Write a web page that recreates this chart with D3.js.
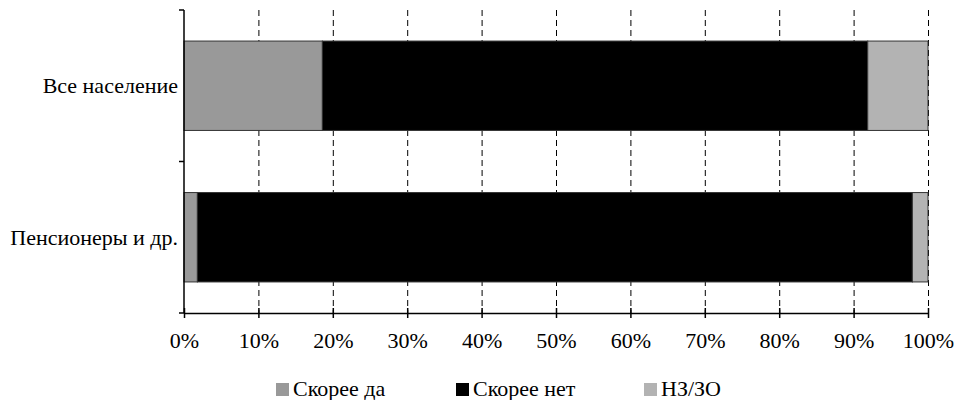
<!DOCTYPE html>
<html>
<head>
<meta charset="utf-8">
<script src="https://cdn.jsdelivr.net/npm/d3@7"></script>
<style>
  body { margin: 0; background: #fff; }
</style>
</head>
<body>
<div id="chart"></div>
<script>
var width = 956, height = 400;
var serif = "'Liberation Serif', 'Times New Roman', serif";

// data
var categories = ["Все население", "Пенсионеры и др."];
var seriesNames = ["Скорее да", "Скорее нет", "НЗ/ЗО"];
var skoreeDa = [18.6, 1.8];
var skoreeNet = [73.3, 96.1];
var nzzo = [8.1, 2.1];
var tickValues = [0, 10, 20, 30, 40, 50, 60, 70, 80, 90, 100];
var colors = ["#999999", "#000000", "#b3b3b3"];

var margin = {left: 184, right: 28, top: 10, bottom: 87};

var svg = d3.select("#chart").append("svg")
    .attr("width", width)
    .attr("height", height);

var x = d3.scaleLinear().domain([0, 100]).range([margin.left, width - margin.right]);
var y = d3.scaleBand().domain(categories)
    .range([margin.top, height - margin.bottom])
    .paddingInner(0.41).paddingOuter(0.205);

var rows = categories.map(function(c, i) {
  return {cat: c, "Скорее да": skoreeDa[i], "Скорее нет": skoreeNet[i], "НЗ/ЗО": nzzo[i]};
});
var stack = d3.stack().keys(seriesNames)(rows);

// grid lines
svg.append("g").selectAll("line")
  .data(tickValues.slice(1))
  .enter().append("line")
  .attr("x1", function(d) { return x(d) + 0.5; })
  .attr("x2", function(d) { return x(d) + 0.5; })
  .attr("y1", margin.top)
  .attr("y2", height - margin.bottom)
  .attr("stroke", "#000")
  .attr("stroke-width", 1)
  .attr("stroke-dasharray", "6,4");

// bars
svg.append("g").selectAll("g")
  .data(stack)
  .enter().append("g")
  .attr("fill", function(d, i) { return colors[i]; })
  .selectAll("rect")
  .data(function(d) { return d; })
  .enter().append("rect")
  .attr("x", function(d) { return x(d[0]); })
  .attr("width", function(d) { return x(d[1]) - x(d[0]); })
  .attr("y", function(d) { return y(d.data.cat); })
  .attr("height", y.bandwidth())
  .attr("stroke", "#333")
  .attr("stroke-width", 1);

// x axis
var xAxis = svg.append("g")
  .attr("transform", "translate(0," + (height - margin.bottom) + ")")
  .call(d3.axisBottom(x).tickValues(tickValues)
    .tickFormat(function(d) { return d + "%"; })
    .tickSize(0).tickPadding(19));
xAxis.attr("font-family", serif);
xAxis.select(".domain").attr("stroke", "#000").attr("stroke-width", 1.5);
xAxis.selectAll("text").style("font-size", "22px").style("font-family", serif);
xAxis.selectAll(".tick").append("line")
  .attr("y1", -5).attr("y2", 5).attr("stroke", "#000").attr("stroke-width", 1.5);

// y axis
var yAxis = svg.append("g").attr("transform", "translate(" + margin.left + ",0)");
yAxis.append("line")
  .attr("x1", 0).attr("x2", 0)
  .attr("y1", margin.top).attr("y2", height - margin.bottom)
  .attr("stroke", "#000").attr("stroke-width", 1.5);
var yTicks = [margin.top, (margin.top + height - margin.bottom) / 2, height - margin.bottom];
yAxis.selectAll(".yt").data(yTicks).enter().append("line")
  .attr("x1", -5).attr("x2", 0)
  .attr("y1", function(d) { return d; }).attr("y2", function(d) { return d; })
  .attr("stroke", "#000").attr("stroke-width", 1.5);
yAxis.selectAll("text").data(categories).enter().append("text")
  .attr("x", -6)
  .attr("y", function(d) { return y(d) + y.bandwidth() / 2; })
  .attr("dy", "0.35em")
  .attr("text-anchor", "end")
  .style("font-size", "22px")
  .style("font-family", serif)
  .text(function(d) { return d; });

// legend
var legendX = [276, 456, 644];
var legend = svg.append("g").selectAll("g")
  .data(seriesNames)
  .enter().append("g")
  .attr("transform", function(d, i) { return "translate(" + legendX[i] + ",383)"; });
legend.append("rect")
  .attr("width", 13).attr("height", 13)
  .attr("fill", function(d, i) { return colors[i]; });
legend.append("text")
  .attr("x", 17).attr("y", 13)
  .style("font-size", "22px")
  .style("font-family", serif)
  .text(function(d) { return d; });
</script>
</body>
</html>
